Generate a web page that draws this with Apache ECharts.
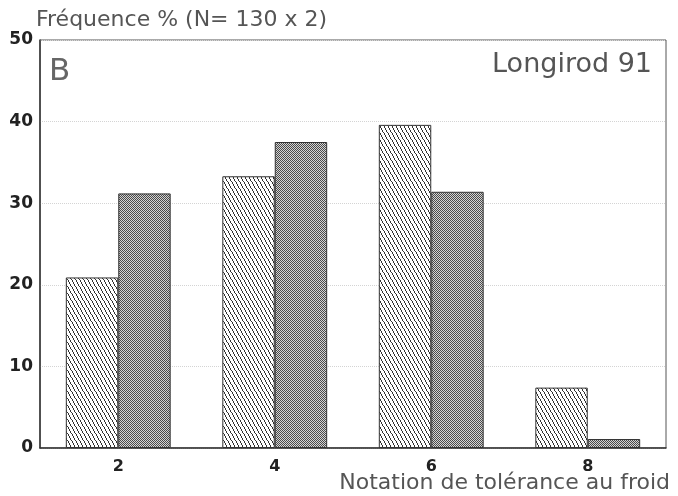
<!DOCTYPE html>
<html><head><meta charset="utf-8">
<script src="https://cdn.jsdelivr.net/npm/echarts@6/dist/echarts.min.js"></script>
<style>html,body{margin:0;padding:0;background:#fff}#c{width:678px;height:496px}</style>
</head><body><div id="c"></div>
<script>
var categories = ['2', '4', '6', '8'];
var seriesA = [20.9, 33.3, 39.6, 7.4];
var seriesB = [31.2, 37.5, 31.4, 1.1];
var yTicks = [0, 10, 20, 30, 40, 50];

function hatch() {
  var w = 4, h = 7, c = document.createElement('canvas');
  c.width = w; c.height = h;
  var g = c.getContext('2d');
  g.fillStyle = '#fff'; g.fillRect(0, 0, w, h);
  g.fillStyle = '#333';
  for (var y = 0; y < h; y++) g.fillRect(Math.floor(y * w / h), y, 1, 1);
  return c;
}
function checker() {
  var c = document.createElement('canvas');
  c.width = 2; c.height = 2;
  var g = c.getContext('2d');
  g.fillStyle = '#d4d4d4'; g.fillRect(0, 0, 2, 2);
  g.fillStyle = '#4a4a4a'; g.fillRect(0, 0, 1, 1); g.fillRect(1, 1, 1, 1);
  return c;
}

var chart = echarts.init(document.getElementById('c'), null, {renderer: 'canvas'});
var font = '"DejaVu Sans", Verdana, sans-serif';
chart.setOption({
  animation: false,
  backgroundColor: '#fff',
  grid: {left: 40, right: 12, top: 40, bottom: 48, show: true, borderColor: '#555', borderWidth: 1},
  graphic: [
    {type: 'text', left: 36, top: 9, style: {text: 'Fréquence % (N= 130 x 2)', font: '22px ' + font, fill: '#555'}},
    {type: 'text', left: 49, top: 56, style: {text: 'B', font: '31px ' + font, fill: '#666'}},
    {type: 'text', right: 26, top: 51, style: {text: 'Longirod 91', font: '27px ' + font, fill: '#555'}},
    {type: 'text', right: 8, top: 472, style: {text: 'Notation de tolérance au froid', font: '22px ' + font, fill: '#555'}}
  ],
  xAxis: {
    type: 'category', data: categories,
    axisLine: {lineStyle: {color: '#333', width: 1.5}},
    axisTick: {show: false},
    axisLabel: {color: '#222', fontWeight: 'bold', fontSize: 16, fontFamily: font, margin: 11}
  },
  yAxis: {
    type: 'value', min: 0, max: 50, interval: 10,
    axisLine: {show: true, lineStyle: {color: '#333', width: 1.5}},
    axisTick: {show: false},
    axisLabel: {color: '#222', fontWeight: 'bold', fontSize: 17, fontFamily: font, margin: 7,
      formatter: function (v) { return yTicks.indexOf(v) >= 0 ? String(v) : ''; }},
    splitLine: {show: true, lineStyle: {color: '#d4d4d4', type: 'dotted', width: 1}}
  },
  series: [
    {type: 'bar', data: seriesA, barGap: '0%', barCategoryGap: '33%',
      itemStyle: {color: {image: hatch(), repeat: 'repeat'}, borderColor: '#333', borderWidth: 1}},
    {type: 'bar', data: seriesB,
      itemStyle: {color: {image: checker(), repeat: 'repeat'}, borderColor: '#333', borderWidth: 1}}
  ]
});
</script></body></html>
